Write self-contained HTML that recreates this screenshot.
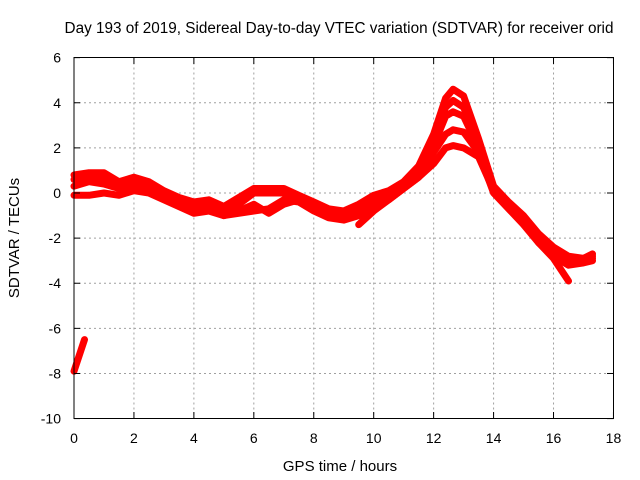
<!DOCTYPE html>
<html><head><meta charset="utf-8"><style>
body{margin:0;background:#fff}
svg{display:block;font-family:"Liberation Sans",sans-serif;font-size:14px}
</style></head><body>
<svg id="chart" width="640" height="480" viewBox="0 0 640 480">
<rect width="640" height="480" fill="#fff"/>
<text x="339" y="33" text-anchor="middle" font-size="15.3">Day 193 of 2019, Sidereal Day-to-day VTEC variation (SDTVAR) for receiver orid</text>
<g id="grid"></g>
<g id="series"></g>
<rect x="74" y="57.5" width="539.5" height="361" fill="none" stroke="#000" stroke-width="1"/>
<g id="ticks"></g>
<text x="340" y="471" text-anchor="middle" font-size="15">GPS time / hours</text>
<text transform="translate(19,238) rotate(-90)" text-anchor="middle" font-size="15">SDTVAR / TECUs</text>
</svg>
<script>
const xTicks=[0,2,4,6,8,10,12,14,16,18];
const yTicks=[6,4,2,0,-2,-4,-6,-8,-10];
const hours=[0,0.5,1,1.5,2,2.5,3,3.5,4,4.5,5,5.5,6,6.5,7,7.5,8,8.5,9,9.5,10,10.5,11,11.5,12,12.4,12.65,13,13.5,14,14.5,15,15.5,16,16.5,17,17.3];
const s1=[0.8,0.9,0.9,0.5,0.7,0.5,0.1,-0.2,-0.4,-0.3,-0.6,-0.2,0.2,0.2,0.2,-0.1,-0.4,-0.7,-0.8,-0.5,-0.1,0.1,0.5,1.2,2.6,4.2,4.6,4.3,2.4,0.3,-0.4,-1.0,-1.8,-2.4,-2.8,-2.9,-2.7];
const s2=[0.6,0.7,0.6,0.3,0.5,0.4,0.0,-0.3,-0.6,-0.5,-0.8,-0.5,0.0,0.0,0.0,-0.2,-0.5,-0.9,-1.0,-0.8,-0.3,0.0,0.4,1.0,2.3,3.8,4.1,3.8,2.2,0.2,-0.5,-1.2,-2.0,-2.6,-3.1,-3.0,-2.8];
const s3=[0.3,0.5,0.4,0.2,0.3,0.2,-0.2,-0.5,-0.8,-0.7,-1.0,-0.8,-0.5,-0.9,-0.5,-0.3,-0.6,-1.0,-1.1,-0.9,-0.4,-0.1,0.3,0.9,2.1,3.4,3.6,3.4,2.0,0.1,-0.6,-1.3,-2.2,-2.9,-3.9,null,null];
const s4=[-0.1,-0.1,0.0,-0.1,0.1,0.0,-0.3,-0.6,-0.9,-0.8,-1.0,-0.9,-0.8,-0.7,-0.3,-0.4,-0.8,-1.1,-1.2,-1.0,-0.6,-0.3,0.2,0.7,1.8,2.6,2.8,2.7,1.8,0.0,-0.7,-1.4,-2.2,-2.8,-3.2,-3.1,-3.0];
const s5=[null,null,null,null,null,null,null,null,null,null,null,null,null,null,null,null,null,null,null,-1.4,-0.8,-0.3,0.2,0.7,1.3,2.0,2.1,2.0,1.6,0.1,-0.6,-1.3,-2.1,-2.6,-3.0,-3.0,-2.9];
const outHours=[0,0.35];
const outVals=[-7.9,-6.5];
const NS="http://www.w3.org/2000/svg";
const X=h=>74+h*29.97, Y=v=>193-v*22.56;
const grid=document.getElementById('grid'), ticks=document.getElementById('ticks'), ser=document.getElementById('series');
function mk(tag,attrs,parent){const e=document.createElementNS(NS,tag);for(const k in attrs)e.setAttribute(k,attrs[k]);parent.appendChild(e);return e;}
xTicks.forEach(t=>{const x=X(t);
 if(t>0&&t<18){const g=mk('line',{x1:x,x2:x,y1:57.5,y2:418.5,stroke:'#a0a0a0','stroke-dasharray':'2,3'},grid);
 
 }
 mk('line',{x1:x,x2:x,y1:418.5,y2:412,stroke:'#000'},ticks);
 mk('line',{x1:x,x2:x,y1:57.5,y2:64,stroke:'#000'},ticks);
 const l=mk('text',{x:x,y:443,'text-anchor':'middle'},ticks);l.textContent=t;
 
 
});
yTicks.forEach(t=>{const y=Y(t);
 if(t<6&&t>-10){const g=mk('line',{x1:74,x2:613.5,y1:y,y2:y,stroke:'#a0a0a0','stroke-dasharray':'2,3'},grid);
 
 }
 mk('line',{x1:74,x2:80,y1:y,y2:y,stroke:'#000'},ticks);
 mk('line',{x1:613.5,x2:607,y1:y,y2:y,stroke:'#000'},ticks);
 const l=mk('text',{x:61,y:y+5,'text-anchor':'end'},ticks);l.textContent=t;
 
 
});
function draw(xs,vs,name){let d='',pen=false;
 xs.forEach((h,i)=>{const v=vs[i];if(v==null){pen=false;return;}d+=(pen?'L':'M')+X(h).toFixed(1)+','+Y(v).toFixed(1);pen=true;});
 const p=mk('path',{d:d,fill:'none',stroke:'#ff0000','stroke-width':7,'stroke-linejoin':'round','stroke-linecap':'round'},ser);
 
 
}
draw(hours,s1,'series-1');draw(hours,s2,'series-2');draw(hours,s3,'series-3');draw(hours,s4,'series-4');draw(hours,s5,'series-5');
draw(outHours,outVals,'outlier-segment');
</script>
</body></html>
